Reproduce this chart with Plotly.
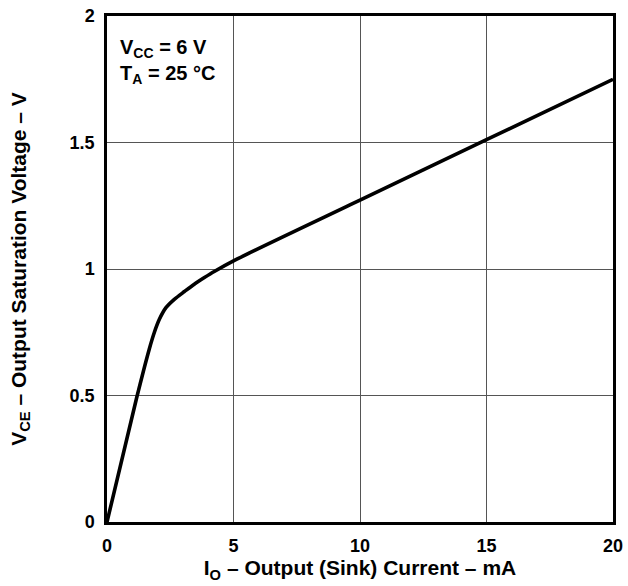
import plotly.graph_objects as go

# Data
io_ma = [0, 1.17, 1.67, 1.87, 2.07, 2.33, 2.66, 3.06, 3.45, 3.85, 4.24, 5, 10, 15, 20]
vce_v = [0, 0.49, 0.683, 0.749, 0.801, 0.847, 0.880, 0.911, 0.940, 0.966, 0.990, 1.032, 1.272, 1.511, 1.75]

x_ticks = [0, 5, 10, 15, 20]
x_tick_text = ["0", "5", "10", "15", "20"]
y_ticks = [0, 0.5, 1, 1.5, 2]
y_tick_text = ["0", "0.5", "1", "1.5", "2"]

font_family = "Liberation Sans, Arial, sans-serif"
tick_fs = 18
title_fs = 21
note_fs = 20

fig = go.Figure()
fig.add_trace(go.Scatter(
    x=io_ma, y=vce_v, mode="lines",
    line=dict(color="black", width=3.6, shape="spline", smoothing=0.8),
    showlegend=False, hoverinfo="skip",
))

axis_common = dict(
    showgrid=True, gridcolor="#555555", gridwidth=1,
    showline=True, linecolor="black", linewidth=2.5, mirror=True,
    zeroline=False, ticks="outside", ticklen=6, tickcolor="rgba(0,0,0,0)",
    tickfont=dict(family=font_family, size=tick_fs, color="black"),
    automargin=False,
)

fig.update_layout(
    width=628, height=586,
    margin=dict(l=107, r=15, t=16, b=64),
    paper_bgcolor="white", plot_bgcolor="white",
    font=dict(family=font_family, color="black"),
    xaxis=dict(range=[0, 20], tickvals=x_ticks,
               ticktext=["<b>%s</b>" % t for t in x_tick_text], **axis_common,
               title=dict(text="<b>I<sub>O</sub> – Output (Sink) Current – mA</b>",
                          font=dict(family=font_family, size=title_fs, color="black"),
                          standoff=2)),
    yaxis=dict(range=[0, 2], tickvals=y_ticks,
               ticktext=["<b>%s</b>" % t for t in y_tick_text], **axis_common,
               title=dict(text="<b>V<sub>CE</sub> – Output Saturation Voltage – V</b>",
                          font=dict(family=font_family, size=title_fs, color="black"),
                          standoff=38)),
    annotations=[
        dict(x=0.022, y=0.965, xref="paper", yref="paper", xanchor="left", yanchor="top",
             align="left", showarrow=False,
             text="<b>V<sub>CC</sub> = 6 V</b><br><b>T<sub>A</sub> = 25 °C</b>",
             font=dict(family=font_family, size=note_fs, color="black")),
    ],
)

fig.write_html("out.html", config={"displayModeBar": False},
               post_script="document.body.style.margin='0';document.body.style.overflow='hidden';")
